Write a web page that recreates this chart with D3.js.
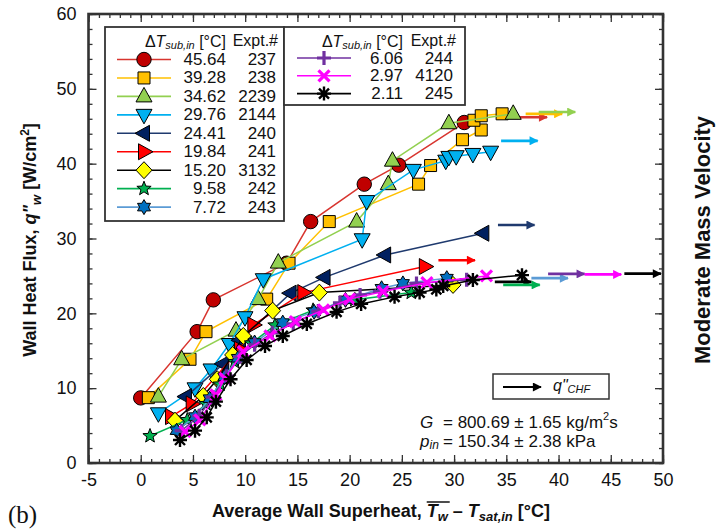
<!DOCTYPE html>
<html>
<head>
<meta charset="utf-8">
<script src="https://cdn.jsdelivr.net/npm/d3@7"></script>
<style>
  html, body { margin: 0; padding: 0; background: #fff; }
  svg { display: block; font-family: "Liberation Sans", Arial, sans-serif; }
</style>
</head>
<body>
<svg id="chart" width="721" height="530"></svg>
<script>
// Inlet subcooling [°C] and experiment numbers, one per run
const subcooling = ["45.64", "39.28", "34.62", "29.76", "24.41", "19.84", "15.20", "9.58", "7.72", "6.06", "2.97", "2.11"];
const exptIds    = ["237", "238", "2239", "2144", "240", "241", "3132", "242", "243", "244", "4120", "245"];

// Boiling curves: [wall superheat °C, wall heat flux W/cm²]
const s237  = [[0.0,8.7],[5.4,17.55],[6.95,21.8],[13.97,26.7],[16.27,32.26],[21.4,37.26],[24.7,39.8],[30.97,45.5]];
const s238  = [[0.73,8.73],[4.72,13.86],[6.25,17.55],[12.06,21.9],[14.2,26.7],[18.05,32.26],[26.6,37.26],[27.75,39.75],[30.8,43.2],[32.6,44.5],[31.9,45.8],[32.6,46.4],[34.6,46.66]];
const s2239 = [[1.69,8.87],[3.92,13.86],[9.12,17.69],[11.25,21.9],[13.17,26.78],[20.67,32.26],[23.7,37.26],[24.1,40.4],[29.5,45.4],[35.66,46.66]];
const s2144 = [[1.69,6.64],[5.2,9.98],[6.73,12.5],[8.48,15.9],[9.98,19.48],[11.73,24.56],[21.2,29.9],[21.63,35.0],[26.1,39.17],[29.2,40.4],[29.5,40.9],[30.2,41.0],[31.8,41.3],[33.5,41.6]];
const s240  = [[4.33,8.87],[7.9,13.24],[9.5,16.4],[14.35,22.7],[17.6,24.8],[23.4,27.8],[32.8,30.7]];
const s241  = [[2.9,6.2],[4.88,7.89],[9.5,15.2],[10.78,18.45],[15.56,22.77],[27.2,26.25]];
const s3132 = [[3.28,5.66],[5.99,8.96],[7.33,11.19],[8.8,14.44],[9.82,16.98],[12.63,20.36],[17.1,22.77],[29.9,23.8]];
const s242  = [[0.89,3.61],[4.46,5.75],[6.25,7.89],[7.6,10.5],[9.0,13.5],[10.6,16.0],[12.85,18.4],[16.5,20.4],[20.5,21.8],[25.9,22.77]];
const s243  = [[3.44,4.32],[5.2,6.2],[6.6,8.6],[8.0,11.5],[9.3,14.0],[10.9,16.1],[13.6,18.76],[16.6,20.2],[19.6,21.8],[23.06,23.35],[25.1,24.0],[29.3,24.7]];
const s244  = [[3.92,4.32],[5.6,6.3],[6.9,8.8],[8.2,11.6],[9.5,14.2],[10.9,15.8],[12.6,17.4],[14.6,18.6],[17.0,20.3],[19.07,21.4],[21.0,22.46],[22.9,22.9],[26.4,24.0],[31.2,24.5]];
const s4120 = [[4.24,4.18],[5.67,5.75],[7.2,9.1],[8.07,11.3],[9.82,14.88],[12.37,16.98],[14.8,18.9],[17.5,20.45],[20.0,21.9],[23.2,22.9],[27.4,24.1],[33.1,25.0]];
const s245  = [[3.76,3.07],[5.2,4.32],[6.32,6.1],[7.2,8.2],[8.6,11.19],[10.14,13.77],[11.9,15.64],[13.6,16.98],[15.9,18.58],[18.75,20.2],[21.1,21.26],[24.3,22.2],[26.7,22.77],[28.3,23.2],[28.96,23.66],[31.8,24.46],[36.5,25.1]];

// Critical heat flux markers: [superheat where arrow starts, q"CHF]
const chfPoints = [[35.4,46.2],[36.85,46.66],[38.1,46.9],[34.5,43.05],[34.2,31.8],[28.5,27.1],[33.9,24.2],[34.7,23.8],[37.4,24.7],[39.0,25.27],[42.5,25.2],[46.3,25.3]];

// Axis ticks
const xMajorTicks = [-5, 0, 5, 10, 15, 20, 25, 30, 35, 40, 45, 50];
const yMajorTicks = [0, 10, 20, 30, 40, 50, 60];

// Run conditions
const massVelocity = "800.69 ± 1.65";
const inletPressure = "150.34 ± 2.38";

const seriesData = [s237, s238, s2239, s2144, s240, s241, s3132, s242, s243, s244, s4120, s245];

// Per-run drawing style
const styles = [
  { marker: "circle",  fill: "#c00000", line: "#d8352f" },
  { marker: "square",  fill: "#ffc000", line: "#ffc000" },
  { marker: "triUp",   fill: "#92d050", line: "#92d050" },
  { marker: "triDown", fill: "#00b0f0", line: "#00b0f0" },
  { marker: "triLeft", fill: "#002060", line: "#1f3a6e" },
  { marker: "triRight",fill: "#ff0000", line: "#ff0000" },
  { marker: "diamond", fill: "#ffff00", line: "#000000" },
  { marker: "star",    fill: "#00b050", line: "#00b050" },
  { marker: "hexStar", fill: "#0070c0", line: "#5b9bd5" },
  { marker: "plus",    fill: "none",    line: "#7030a0", stroke: "#7030a0" },
  { marker: "cross",   fill: "none",    line: "#ff00ff", stroke: "#ff00ff" },
  { marker: "aster",   fill: "none",    line: "#000000", stroke: "#000000" }
];

const svg = d3.select("#chart");
const x = d3.scaleLinear().domain([-5, 50]).range([88.5, 663]);
const y = d3.scaleLinear().domain([0, 60]).range([463, 14]);

function polyPath(pts) { return "M" + pts.map(p => p[0].toFixed(2) + "," + p[1].toFixed(2)).join("L") + "Z"; }
function starPts(n, ro, ri) {
  const pts = [];
  for (let i = 0; i < 2 * n; i++) {
    const r = i % 2 ? ri : ro, a = -Math.PI / 2 + i * Math.PI / n;
    pts.push([r * Math.cos(a), r * Math.sin(a)]);
  }
  return pts;
}
function markerPath(kind) {
  switch (kind) {
    case "circle":  return d3.symbol(d3.symbolCircle, Math.PI * 7.2 * 7.2)();
    case "square":  return "M-6,-6H6V6H-6Z";
    case "triUp":   return polyPath([[0,-9],[8,5.5],[-8,5.5]]);
    case "triDown": return polyPath([[0,9],[8,-5.5],[-8,-5.5]]);
    case "triLeft": return polyPath([[-9,0],[5.5,-8],[5.5,8]]);
    case "triRight":return polyPath([[9,0],[-5.5,-8],[-5.5,8]]);
    case "diamond": return polyPath([[0,-8.5],[8,0],[0,8.5],[-8,0]]);
    case "star":    return polyPath(starPts(5, 7.5, 3.2));
    case "hexStar": return polyPath(starPts(6, 7.5, 4.4));
    case "plus":    return "M-7,0H7M0,-7V7";
    case "cross":   return "M-5.5,-5.5L5.5,5.5M-5.5,5.5L5.5,-5.5";
    case "aster":   return "M-7,0H7M0,-7V7M-5,-5L5,5M-5,5L5,-5";
  }
}
function drawMarker(g, st, cx, cy) {
  const p = g.append("path").attr("d", markerPath(st.marker))
    .attr("transform", `translate(${cx},${cy})`);
  if (st.fill === "none") {
    p.attr("fill", "none").attr("stroke", st.stroke)
     .attr("stroke-width", st.marker === "aster" ? 2.4 : 3.2);
  } else {
    p.attr("fill", st.fill).attr("stroke", "#000").attr("stroke-width", 1);
  }
}

// Axes: inward ticks on all four sides
const range = (a, b, s) => d3.range(a, b + s / 2, s);
const plainNumber = d => String(d);
function styleAxis(g) {
  g.select(".domain").remove();
  g.selectAll(".tick line").attr("stroke", "#333").attr("stroke-width", 1.3);
  g.selectAll("text").attr("font-size", 18).attr("fill", "#111")
    .attr("font-family", '"Liberation Sans", Arial, sans-serif');
}
const axes = svg.append("g");
axes.append("g").attr("transform", "translate(0,463)")
  .call(d3.axisBottom(x).tickValues(range(-5, 50, 1)).tickSize(-4).tickFormat(""))
  .call(styleAxis);
axes.append("g").attr("transform", "translate(0,463)")
  .call(d3.axisBottom(x).tickValues(xMajorTicks).tickSize(-8).tickPadding(10).tickFormat(plainNumber))
  .call(styleAxis);
axes.append("g").attr("transform", "translate(0,14)")
  .call(d3.axisTop(x).tickValues(range(-5, 50, 1)).tickSize(-4).tickFormat(""))
  .call(styleAxis);
axes.append("g").attr("transform", "translate(0,14)")
  .call(d3.axisTop(x).tickValues(xMajorTicks).tickSize(-8).tickFormat(""))
  .call(styleAxis);
axes.append("g").attr("transform", "translate(88.5,0)")
  .call(d3.axisLeft(y).tickValues(range(0, 60, 2)).tickSize(-4).tickFormat(""))
  .call(styleAxis);
axes.append("g").attr("transform", "translate(88.5,0)")
  .call(d3.axisLeft(y).tickValues(yMajorTicks).tickSize(-8).tickPadding(12).tickFormat(plainNumber))
  .call(styleAxis);
axes.append("g").attr("transform", "translate(663,0)")
  .call(d3.axisRight(y).tickValues(range(0, 60, 2)).tickSize(-4).tickFormat(""))
  .call(styleAxis);
axes.append("g").attr("transform", "translate(663,0)")
  .call(d3.axisRight(y).tickValues(yMajorTicks).tickSize(-8).tickFormat(""))
  .call(styleAxis);

// Plot frame
svg.append("rect").attr("x", x(-5)).attr("y", y(60))
  .attr("width", x(50) - x(-5)).attr("height", y(0) - y(60))
  .attr("fill", "none").attr("stroke", "#333").attr("stroke-width", 2.6);

// Arrow head definitions
const defs = svg.append("defs");
function arrowId(i) { return "chf-head-" + i; }
styles.forEach((st, i) => {
  defs.append("marker").attr("id", arrowId(i))
    .attr("viewBox", "0 0 10 10").attr("refX", 9).attr("refY", 5)
    .attr("markerWidth", 11).attr("markerHeight", 9).attr("markerUnits", "userSpaceOnUse")
    .attr("orient", "auto")
    .append("path").attr("d", "M0,0L10,5L0,10Z").attr("fill", st.line);
});
defs.append("marker").attr("id", "chf-head-key")
  .attr("viewBox", "0 0 10 10").attr("refX", 9).attr("refY", 5)
  .attr("markerWidth", 11).attr("markerHeight", 9).attr("markerUnits", "userSpaceOnUse")
  .attr("orient", "auto")
  .append("path").attr("d", "M0,0L10,5L0,10Z").attr("fill", "#000");

// CHF arrows
const chfLength = 3.5;
const arrowG = svg.append("g");
chfPoints.forEach((c, i) => {
  arrowG.append("line")
    .attr("x1", x(c[0])).attr("x2", x(c[0] + chfLength))
    .attr("y1", y(c[1])).attr("y2", y(c[1]))
    .attr("stroke", styles[i].line).attr("stroke-width", 2.6)
    .attr("marker-end", `url(#${arrowId(i)})`);
});

// Series lines and markers
const line = d3.line().x(d => x(d[0])).y(d => y(d[1]));
const plotG = svg.append("g");
seriesData.forEach((data, i) => {
  const st = styles[i];
  const g = plotG.append("g");
  g.append("path").attr("d", line(data)).attr("fill", "none")
    .attr("stroke", st.line).attr("stroke-width", 1.5);
  data.forEach(d => drawMarker(g, st, x(d[0]), y(d[1])));
});

// Legends
function legendHeader(g, xRight, xExpt, cy) {
  const t = g.append("text").attr("x", xRight).attr("y", cy).attr("text-anchor", "end")
    .attr("dominant-baseline", "central").attr("font-size", 16).attr("fill", "#111");
  t.append("tspan").text("Δ");
  t.append("tspan").attr("font-style", "italic").text("T");
  t.append("tspan").attr("font-style", "italic").attr("font-size", 11).attr("dy", 4).text("sub,in");
  t.append("tspan").attr("dy", -4).text(" [°C]");
  g.append("text").attr("x", xExpt).attr("y", cy).attr("text-anchor", "end")
    .attr("dominant-baseline", "central").attr("font-size", 16).attr("fill", "#111").text("Expt.#");
}
function legendRow(g, i, x0, x1, xVal, xExpt, cy) {
  const st = styles[i];
  g.append("line").attr("x1", x0).attr("x2", x1).attr("y1", cy).attr("y2", cy)
    .attr("stroke", st.line).attr("stroke-width", 1.6);
  drawMarker(g, st, (x0 + x1) / 2, cy);
  g.append("text").attr("x", xVal).attr("y", cy).attr("text-anchor", "end")
    .attr("dominant-baseline", "central").attr("font-size", 17).attr("fill", "#111").text(subcooling[i]);
  g.append("text").attr("x", xExpt).attr("y", cy).attr("text-anchor", "end")
    .attr("dominant-baseline", "central").attr("font-size", 17).attr("fill", "#111").text(exptIds[i]);
}
const leg1 = svg.append("g");
leg1.append("rect").attr("x", 105).attr("y", 27).attr("width", 179).attr("height", 194)
  .attr("fill", "#fff").attr("stroke", "#333").attr("stroke-width", 1.8);
legendHeader(leg1, 226, 278, 40.5);
for (let i = 0; i < 9; i++) legendRow(leg1, i, 117, 171, 226, 276, 59.5 + i * 18.45);

const leg2 = svg.append("g");
leg2.append("rect").attr("x", 284).attr("y", 27).attr("width", 181).attr("height", 78)
  .attr("fill", "#fff").attr("stroke", "#333").attr("stroke-width", 1.8);
legendHeader(leg2, 403, 456, 40.5);
for (let i = 9; i < 12; i++) legendRow(leg2, i, 297, 351, 403, 453, 58 + (i - 9) * 17.8);

// CHF key
const key = svg.append("g");
key.append("rect").attr("x", 493).attr("y", 374).attr("width", 116).attr("height", 25)
  .attr("fill", "#fff").attr("stroke", "#333").attr("stroke-width", 1.5);
key.append("line").attr("x1", 503).attr("x2", 541).attr("y1", 387).attr("y2", 387)
  .attr("stroke", "#000").attr("stroke-width", 2).attr("marker-end", "url(#chf-head-key)");
const kt = key.append("text").attr("x", 553).attr("y", 385).attr("dominant-baseline", "central")
  .attr("font-size", 16).attr("font-style", "italic").attr("fill", "#111");
kt.append("tspan").text("q\"");
kt.append("tspan").attr("font-size", 11).attr("dy", 4).text("CHF");

// Run conditions
const gT = svg.append("text").attr("x", 420).attr("y", 422).attr("dominant-baseline", "central")
  .attr("font-size", 17).attr("fill", "#111");
gT.append("tspan").attr("font-style", "italic").text("G");
gT.append("tspan").attr("x", 443).text("= " + massVelocity + " kg/m");
gT.append("tspan").attr("font-size", 11).attr("dy", -6).text("2");
gT.append("tspan").attr("dy", 6).text("s");
const pT = svg.append("text").attr("x", 420).attr("y", 441).attr("dominant-baseline", "central")
  .attr("font-size", 17).attr("fill", "#111");
pT.append("tspan").attr("font-style", "italic").text("p");
pT.append("tspan").attr("font-style", "italic").attr("font-size", 12).attr("dy", 4).text("in");
pT.append("tspan").attr("dy", -4).attr("x", 443).text("= " + inletPressure + " kPa");

// Axis titles
const yt = svg.append("text").attr("transform", "translate(36,240) rotate(-90)")
  .attr("text-anchor", "middle").attr("font-size", 18).attr("font-weight", "bold").attr("fill", "#111");
yt.append("tspan").text("Wall Heat Flux, ");
yt.append("tspan").attr("font-style", "italic").text("q\"");
yt.append("tspan").attr("font-style", "italic").attr("font-size", 13).attr("dy", 5).text("w");
yt.append("tspan").attr("dy", -5).text(" [W/cm");
yt.append("tspan").attr("font-size", 12).attr("dy", -7).text("2");
yt.append("tspan").attr("dy", 7).text("]");

const xt = svg.append("text").attr("x", 381).attr("y", 517)
  .attr("text-anchor", "middle").attr("font-size", 18).attr("font-weight", "bold").attr("fill", "#111");
xt.append("tspan").text("Average Wall Superheat, ");
const tw = xt.append("tspan").attr("font-style", "italic").text("T");
const tws = xt.append("tspan").attr("font-style", "italic").attr("font-size", 13).attr("dy", 4).text("w");
xt.append("tspan").attr("dy", -4).text(" – ");
xt.append("tspan").attr("font-style", "italic").text("T");
xt.append("tspan").attr("font-style", "italic").attr("font-size", 13).attr("dy", 4).text("sat,in");
xt.append("tspan").attr("dy", -4).text(" [°C]");
// Overline across the averaged wall temperature symbol
{
  const b1 = tw.node().getBBox(), b2 = tws.node().getBBox();
  svg.append("line").attr("x1", b1.x).attr("x2", b2.x + b2.width + 1)
    .attr("y1", b1.y + 1).attr("y2", b1.y + 1).attr("stroke", "#111").attr("stroke-width", 1.5);
}

svg.append("text").attr("transform", "translate(710,240) rotate(-90)")
  .attr("text-anchor", "middle").attr("font-size", 22).attr("font-weight", "bold").attr("fill", "#111")
  .text("Moderate Mass Velocity");

svg.append("text").attr("x", 8).attr("y", 523)
  .attr("font-family", '"Liberation Serif", "Times New Roman", serif').attr("font-size", 25).attr("fill", "#111")
  .text("(b)");
</script>
</body>
</html>
